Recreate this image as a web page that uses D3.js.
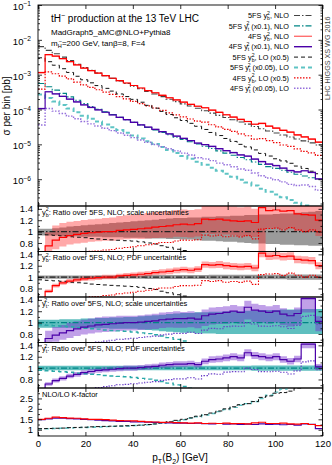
<!DOCTYPE html>
<html>
<head>
<meta charset="utf-8">
<script src="https://cdn.jsdelivr.net/npm/d3@7/dist/d3.min.js"></script>
<style>
body{margin:0;background:#fff}
text{font-family:"Liberation Sans",Arial,sans-serif;fill:#000}
</style>
</head>
<body>
<svg id="chart" width="332" height="465"></svg>
<script>
// bins of 3 GeV from 0 to 120
var binWidth = 3, xMax = 120;
var bins = d3.range(0, xMax, binWidth);

// 5FS NLO central values [pb] (y_t^2 is drawn x0.1)
var nlo5b = [6.4e-3,5.0e-3,4.0e-3,3.2e-3,2.55e-3,2.0e-3,1.6e-3,1.33e-3,1.12e-3,9.4e-4,
  7.9e-4,6.6e-4,5.6e-4,4.7e-4,3.95e-4,3.3e-4,2.8e-4,2.35e-4,1.98e-4,1.68e-4,
  1.45e-4,1.26e-4,1.09e-4,9.2e-5,7.9e-5,6.8e-5,5.9e-5,5.1e-5,4.4e-5,3.8e-5,
  3.25e-5,2.8e-5,2.42e-5,2.12e-5,1.86e-5,1.63e-5,1.43e-5,1.26e-5,1.1e-5,9.6e-6];
var nlo5t = [5.6e-3,4.5e-3,3.6e-3,2.9e-3,2.3e-3,1.85e-3,1.48e-3,1.22e-3,1.02e-3,8.6e-4,
  7.2e-4,6.0e-4,5.1e-4,4.3e-4,3.6e-4,3.05e-4,2.6e-4,2.2e-4,1.88e-4,1.6e-4,
  1.38e-4,1.19e-4,1.02e-4,8.8e-5,7.6e-5,6.5e-5,5.6e-5,4.85e-5,4.2e-5,3.6e-5,
  3.1e-5,2.67e-5,2.3e-5,2.05e-5,1.8e-5,1.58e-5,1.39e-5,1.23e-5,1.1e-5,1.0e-5];

// 4FS NLO / 5FS NLO
var r4b = [0.18,0.75,0.85,0.9,0.93,0.95,0.97,0.98,0.99,1.0,
  1.0,1.02,1.03,1.04,1.05,1.06,1.08,1.09,1.1,1.12,
  1.13,1.12,1.14,1.22,1.21,1.22,1.2,1.19,1.18,1.19,
  1.16,1.42,1.37,1.38,1.36,1.37,1.31,1.3,1.29,1.2];
var r4t = [0.19,0.72,0.78,0.82,0.86,0.89,0.92,0.94,0.96,0.97,
  0.98,0.99,1.0,1.0,1.01,1.02,1.03,1.05,1.06,1.07,
  1.07,1.08,1.06,1.12,1.15,1.16,1.18,1.2,1.18,1.27,
  1.22,1.2,1.18,1.2,1.15,1.12,1.16,1.42,1.42,1.02];

// NLO/LO K-factors
var k4b = [1.5,1.55,1.6,1.58,1.56,1.55,1.52,1.5,1.5,1.48,
  1.46,1.44,1.43,1.42,1.4,1.38,1.37,1.35,1.36,1.34,
  1.33,1.32,1.33,1.3,1.31,1.3,1.32,1.29,1.3,1.28,
  1.33,1.36,1.3,1.3,1.32,1.28,1.27,1.3,1.25,1.2];
var k4t = [1.48,1.52,1.56,1.55,1.53,1.52,1.5,1.48,1.46,1.44,
  1.42,1.4,1.4,1.38,1.37,1.36,1.35,1.34,1.33,1.32,
  1.32,1.3,1.31,1.29,1.28,1.3,1.27,1.28,1.26,1.27,
  1.25,1.28,1.26,1.27,1.24,1.25,1.22,1.28,1.26,1.05];
var k5b = [1.05,1.06,1.07,1.08,1.1,1.11,1.12,1.14,1.15,1.16,
  1.17,1.18,1.19,1.2,1.22,1.25,1.28,1.33,1.38,1.45,
  1.5,1.57,1.65,1.72,1.8,1.9,2.0,2.1,2.2,2.25,
  2.35,2.55,2.62,2.75,2.78,2.85,3.0,3.1,3.25,3.35];
var k5t = [1.04,1.05,1.06,1.07,1.08,1.1,1.11,1.12,1.13,1.15,
  1.16,1.17,1.18,1.2,1.22,1.24,1.27,1.31,1.36,1.42,
  1.48,1.55,1.62,1.7,1.78,1.87,1.97,2.07,2.17,2.25,
  2.35,2.5,2.65,2.8,2.95,3.1,3.3,3.5,3.7,3.9];

// uncertainties in percent (up / down)
var scale5bUp = [5,5,6,7,9,10,11,12,13,14,15,16,17,18,19,20,21,22,23,24,24,25,25,26,26,27,27,28,28,29,29,30,30,31,32,32,33,34,35,36];
var scale5bDn = [7,7,7,8,8,8,9,9,9,10,10,10,11,11,11,12,12,12,13,13,14,14,15,16,16,17,18,18,19,20,21,21,22,22,23,23,24,24,25,25];
var scale4bUp = [30,32,30,28,26,25,24,24,24,24,25,25,25,25,25,25,25,24,24,23,23,23,22,22,22,21,21,21,21,21,21,50,22,22,22,22,22,22,22,22];
var scale4bDn = [20,20,19,18,17,17,17,16,16,16,16,16,16,16,17,17,18,18,19,19,20,20,20,20,21,21,21,21,22,22,22,60,23,23,23,23,23,23,23,23];
var scale5tUp = [5,5,5,6,6,6,7,7,8,8,9,9,10,10,11,12,13,14,15,16,17,17,18,18,19,19,20,20,20,21,21,22,22,22,23,23,23,24,24,24];
var scale5tDn = [9,9,9,9,9,10,10,10,10,10,11,11,11,11,12,13,14,15,16,17,18,18,19,19,19,20,20,20,20,20,20,20,20,20,20,20,20,20,20,20];
var scale4tUp = [20,19,18,17,16,15,14,14,14,14,13,13,12,12,12,12,12,12,12,12,11,11,11,10,10,10,9,9,9,9,9,9,9,9,9,9,9,9,9,9];
var scale4tDn = [15,15,15,15,15,14,14,14,14,14,14,14,14,14,14,14,14,14,14,15,15,15,15,16,16,16,17,17,17,17,17,17,17,17,17,17,17,17,17,17];
var pdf5b = [3,3,3,3,3,3,3,3,3,3,3,3,3,3,3,3.5,3.5,3.5,3.5,3.5,3.5,3.5,3.5,3.5,4,4,4,4,4,4,4,4,4,4,4,4.5,4.5,4.5,4.5,4.5];
var pdf4b = [5,4,4,4,4,4,4,4,4,4,4,4,4,4,4,4,4,4.5,4.5,4.5,4.5,4.5,4.5,4.5,4.5,5,5,5,5,5,5,5,5,5,5,5,5,5,5,5];
var pdf5t = [4,4,4,4,4,4,4,4,4,4,4,4,4,4,4,4,4,4,4,4,4,4,4,4,4,4,4,4,4,4,4.5,4.5,4.5,4.5,4.5,4.5,4.5,4.5,4.5,4.5];
var pdf4t = [5,4.5,4.5,4.5,4.5,4.5,4.5,4.5,4.5,4.5,4.5,4.5,4.5,4.5,4.5,4.5,4.5,4.5,4.5,4.5,4.5,4.5,4.5,4.5,5,5,5,5,5,5,5,5,5,5,5,5,5,5,5,5];

var ytScale = 0.1, loScaleB = 0.5, loScaleT = 0.05;
var xTicks = [0,20,40,60,80,100,120];
var ratioTicks = [0.8,1,1.2,1.4];
var kTicks = [1,1.5,2,2.5];

var col = {
  n5b:"#444", n5t:"#008585", n4b:"#ff0000", n4bBand:"#ff8c8c", n4t:"#4a00a8", n4tBand:"#a78ad8",
  l5b:"#111", l5t:"#5ec4c4", l4b:"#ee0000", l4t:"#9570dc",
  grey:"#9a9a9a", red:"rgba(255,30,30,0.38)", teal:"#5fbfbf", purple:"rgba(115,45,205,0.45)"
};

var svg = d3.select("#chart");
var x = d3.scaleLinear().domain([0, xMax]).range([38, 322.5]);

// derived series
var n4b = nlo5b.map(function(v,i){ return v*r4b[i]; });
var n4t = nlo5t.map(function(v,i){ return v*r4t[i]*ytScale; });
var n5t = nlo5t.map(function(v){ return v*ytScale; });
var l5b = nlo5b.map(function(v,i){ return v/k5b[i]*loScaleB; });
var l4b = n4b.map(function(v,i){ return v/k4b[i]*loScaleB; });
var l5t = nlo5t.map(function(v,i){ return v/k5t[i]*loScaleT; });
var l4t = nlo5t.map(function(v,i){ return v*r4t[i]/k4t[i]*loScaleT; });

function pts(vals){
  var p = vals.map(function(v,i){ return [bins[i], v]; });
  p.push([xMax, vals[vals.length-1]]);
  return p;
}
function bandPts(c, up, dn){
  var p = c.map(function(v,i){ return [bins[i], v*(1-dn[i]/100), v*(1+up[i]/100)]; });
  p.push([xMax, p[p.length-1][1], p[p.length-1][2]]);
  return p;
}

var clipN = 0;
function panel(top, bottom, y){
  var id = "clip" + (clipN++);
  svg.append("clipPath").attr("id", id).append("rect")
    .attr("x", x(0)).attr("y", top).attr("width", x(xMax)-x(0)).attr("height", bottom-top);
  var g = svg.append("g").attr("clip-path", "url(#" + id + ")");
  return {g:g, y:y, top:top, bottom:bottom};
}
function drawLine(p, vals, color, w, dash){
  p.g.append("path").datum(pts(vals))
    .attr("fill","none").attr("stroke",color).attr("stroke-width",w)
    .attr("stroke-dasharray", dash || null)
    .attr("d", d3.line().x(function(d){return x(d[0]);}).y(function(d){return p.y(d[1]);}).curve(d3.curveStepAfter));
}
function drawBand(p, c, up, dn, color){
  p.g.append("path").datum(bandPts(c, up, dn))
    .attr("fill", color).attr("stroke","none")
    .attr("d", d3.area().x(function(d){return x(d[0]);}).y0(function(d){return p.y(d[1]);}).y1(function(d){return p.y(d[2]);}).curve(d3.curveStepAfter));
}
function frame(p, ticks, minor, labels){
  var fr = svg.append("g");
  fr.append("g").attr("transform","translate(0,"+p.bottom+")")
    .call(d3.axisBottom(x).tickValues(xTicks).tickSize(-4).tickPadding(4).tickFormat(labels ? d3.format("d") : ""));
  fr.append("g").attr("transform","translate(0,"+p.top+")")
    .call(d3.axisTop(x).tickValues(xTicks).tickSize(-4).tickFormat(""));
  if (minor){
    fr.append("g").attr("transform","translate("+x(0)+",0)")
      .call(d3.axisLeft(p.y).tickValues(minor).tickSize(-2).tickFormat(""));
    fr.append("g").attr("transform","translate("+x(xMax)+",0)")
      .call(d3.axisRight(p.y).tickValues(minor).tickSize(-2).tickFormat(""));
  }
  fr.append("g").attr("transform","translate("+x(0)+",0)")
    .call(d3.axisLeft(p.y).tickValues(ticks).tickSize(-4).tickPadding(5).tickFormat(function(d){ return p.fmt ? "" : d; }));
  fr.append("g").attr("transform","translate("+x(xMax)+",0)")
    .call(d3.axisRight(p.y).tickValues(ticks).tickSize(-4).tickFormat(""));
  fr.selectAll(".domain").remove();
  fr.selectAll(".tick line").attr("stroke","#000").attr("stroke-width",0.8);
  fr.selectAll(".tick text").attr("font-size", 9.5).attr("font-family","Liberation Sans, Arial, sans-serif").attr("fill","#000");
  svg.append("rect").attr("x",x(0)).attr("y",p.top).attr("width",x(xMax)-x(0)).attr("height",p.bottom-p.top)
    .attr("fill","none").attr("stroke","#000").attr("stroke-width",0.9);
}

// rich text with sub/superscripts
function rich(parent, px, py, parts, fs, anchor){
  var t = parent.append("text").attr("x",px).attr("y",py).attr("font-size",fs).attr("text-anchor",anchor||"start");
  var cur = 0;
  parts.forEach(function(pt){
    var s = pt[0], kind = pt[1], off = 0, size = fs, dx = 0;
    if (kind === "sub"){ off = fs*0.3; size = fs*0.7; }
    if (kind === "sup"){ off = -fs*0.38; size = fs*0.7; }
    if (kind === "ssup"){ off = -fs*0.42; size = fs*0.7; dx = -pt[2]*fs*0.7*0.55; }
    t.append("tspan").attr("dy", off-cur).attr("dx", dx || null).attr("font-size", size).text(s);
    cur = off;
  });
  return t;
}

// ---------- main panel ----------
var yMain = d3.scaleLog().domain([1.7e-7, 0.1]).range([206, 5]);
var pm = panel(5, 206, yMain);
drawBand(pm, n4b, pdf4b, pdf4b, col.n4bBand);
drawBand(pm, n4t, pdf4t, pdf4t, col.n4tBand);
drawLine(pm, l5t, col.l5t, 2, "4,3");
drawLine(pm, l4t, col.l4t, 1.4, "1.5,1.5");
drawLine(pm, l4b, col.l4b, 1.2, "1.5,1.5");
drawLine(pm, l5b, col.l5b, 1, "4,3");
drawLine(pm, n5t, col.n5t, 1.1, "6,2,1.5,2");
drawLine(pm, nlo5b, col.n5b, 1.1, "6,2,1.5,2");
drawLine(pm, n4t, col.n4t, 1.2);
drawLine(pm, n4b, col.n4b, 1.2);

var decades = [1e-6,1e-5,1e-4,1e-3,1e-2,1e-1];
var minors = [];
[-7,-6,-5,-4,-3,-2].forEach(function(e){ for (var m=2;m<10;m++){ var v=m*Math.pow(10,e); if (v>1.7e-7 && v<0.1) minors.push(v);} });
pm.fmt = true;
frame(pm, decades, minors, false);
decades.forEach(function(d){
  var e = Math.round(Math.log10(d));
  rich(svg, 31, yMain(d)+5, [["10"],[String(e).replace("-","\u2212"),"sup"]], 9.5, "end");
});

// titles
rich(svg, 51, 22, [["tH"],["\u2212","sup"],[" production at the 13 TeV LHC"]], 10);
svg.append("text").attr("x",51).attr("y",35).attr("font-size",8).text("MadGraph5_aMC@NLO+Pythia8");
rich(svg, 51, 46, [["m"],["H","sub"],["\u2212","ssup",1],["=200 GeV, tan\u03b2=8, F=4"]], 8);

// legend
var legend = [
  {lab:[["5FS y"],["b","sub"],["2","ssup",1],[", NLO"]], c:col.n5b, w:1.2, d:"6,2,1.5,2"},
  {lab:[["5FS y"],["t","sub"],["2","ssup",1],[" (x0.1), NLO"]], c:col.n5t, w:1.2, d:"6,2,1.5,2"},
  {lab:[["4FS y"],["b","sub"],["2","ssup",1],[", NLO"]], c:"#ff7070", w:1.4},
  {lab:[["4FS y"],["t","sub"],["2","ssup",1],[" (x0.1), NLO"]], c:col.n4t, w:1.4},
  {lab:[["5FS y"],["b","sub"],["2","ssup",1],[", LO (x0.5)"]], c:col.l5b, w:1, d:"4,3"},
  {lab:[["5FS y"],["t","sub"],["2","ssup",1],[" (x0.05), LO"]], c:col.l5t, w:2, d:"4,3"},
  {lab:[["4FS y"],["b","sub"],["2","ssup",1],[", LO (x0.5)"]], c:col.l4b, w:1.2, d:"1.5,1.5"},
  {lab:[["4FS y"],["t","sub"],["2","ssup",1],[" (x0.05), LO"]], c:col.l4t, w:1.5, d:"1.5,1.5"}
];
legend.forEach(function(l, i){
  var ly = 15.5 + i*10.4;
  rich(svg, 289, ly+2.6, l.lab, 7.3, "end");
  svg.append("line").attr("x1",294).attr("x2",312).attr("y1",ly).attr("y2",ly)
    .attr("stroke",l.c).attr("stroke-width",l.w).attr("stroke-dasharray",l.d||null);
});
svg.append("text").attr("transform","translate(329.5,100) rotate(-90)")
  .attr("font-size",7.2).style("fill","#444").text("LHC HIGGS XS WG 2016");

// ---------- ratio panels ----------
var ones = bins.map(function(){ return 1; });
var inv5b = k5b.map(function(k){ return 1/k; });
var lo4b = r4b.map(function(r,i){ return r/k4b[i]; });
var inv5t = k5t.map(function(k){ return 1/k; });
var lo4t = r4t.map(function(r,i){ return r/k4t[i]; });

var tops = [206, 251.5, 297, 342.5, 388, 436];
var ratioMinor = [0.7,0.9,1.1,1.3];

function ratioPanel(k, yb, scale){
  var y = d3.scaleLinear().domain([0.65,1.45]).range([tops[k+1], tops[k]]);
  var p = panel(tops[k], tops[k+1], y);
  if (yb){
    drawBand(p, ones, scale ? scale5bUp : pdf5b, scale ? scale5bDn : pdf5b, col.grey);
    drawBand(p, r4b, scale ? scale4bUp : pdf4b, scale ? scale4bDn : pdf4b, col.red);
    drawLine(p, ones, "#222", 1.1, "6,2,1.5,2");
    drawLine(p, inv5b, col.l5b, 1, "4,3");
    drawLine(p, lo4b, col.l4b, 1.1, "1.5,1.5");
    drawLine(p, r4b, col.n4b, 1.2);
  } else {
    drawBand(p, ones, scale ? scale5tUp : pdf5t, scale ? scale5tDn : pdf5t, col.teal);
    drawBand(p, r4t, scale ? scale4tUp : pdf4t, scale ? scale4tDn : pdf4t, col.purple);
    drawLine(p, ones, col.n5t, 1.1, "6,2,1.5,2");
    drawLine(p, inv5t, "#2aa8a8", 1.4, "4,3");
    drawLine(p, lo4t, "#6a3fc8", 1.1, "1.5,1.5");
    drawLine(p, r4t, col.n4t, 1.2);
  }
  frame(p, ratioTicks, ratioMinor, false);
  rich(svg, 42, tops[k]+8.5, [["y"],[yb?"b":"t","sub"],["2","ssup",1],[": Ratio over 5FS, NLO; "+(scale?"scale":"PDF")+" uncertainties"]], 7.5);
}
ratioPanel(0, true, true);
ratioPanel(1, true, false);
ratioPanel(2, false, true);
ratioPanel(3, false, false);

// K-factor panel
var yK = d3.scaleLinear().domain([0.7,3]).range([tops[5], tops[4]]);
var pk = panel(tops[4], tops[5], yK);
drawLine(pk, k5t, col.l5t, 1.4, "4,3");
drawLine(pk, k5b, "#111", 1, "4,2");
drawLine(pk, k4t, col.n4t, 1.2);
drawLine(pk, k4b, col.n4b, 1.2);
frame(pk, kTicks, [0.75,1.25,1.75,2.25,2.75], true);
svg.append("text").attr("x",42).attr("y",tops[4]+9).attr("font-size",7.5).text("NLO/LO K-factor");

// axis titles
svg.append("text").attr("transform","translate(10,106) rotate(-90)").attr("text-anchor","middle")
  .attr("font-size",10).text("\u03c3 per bin [pb]");
rich(svg, 180, 461, [["p"],["T","sub"],["(B"],["2","sub"],[") [GeV]"]], 10, "middle");
</script>
</body>
</html>
